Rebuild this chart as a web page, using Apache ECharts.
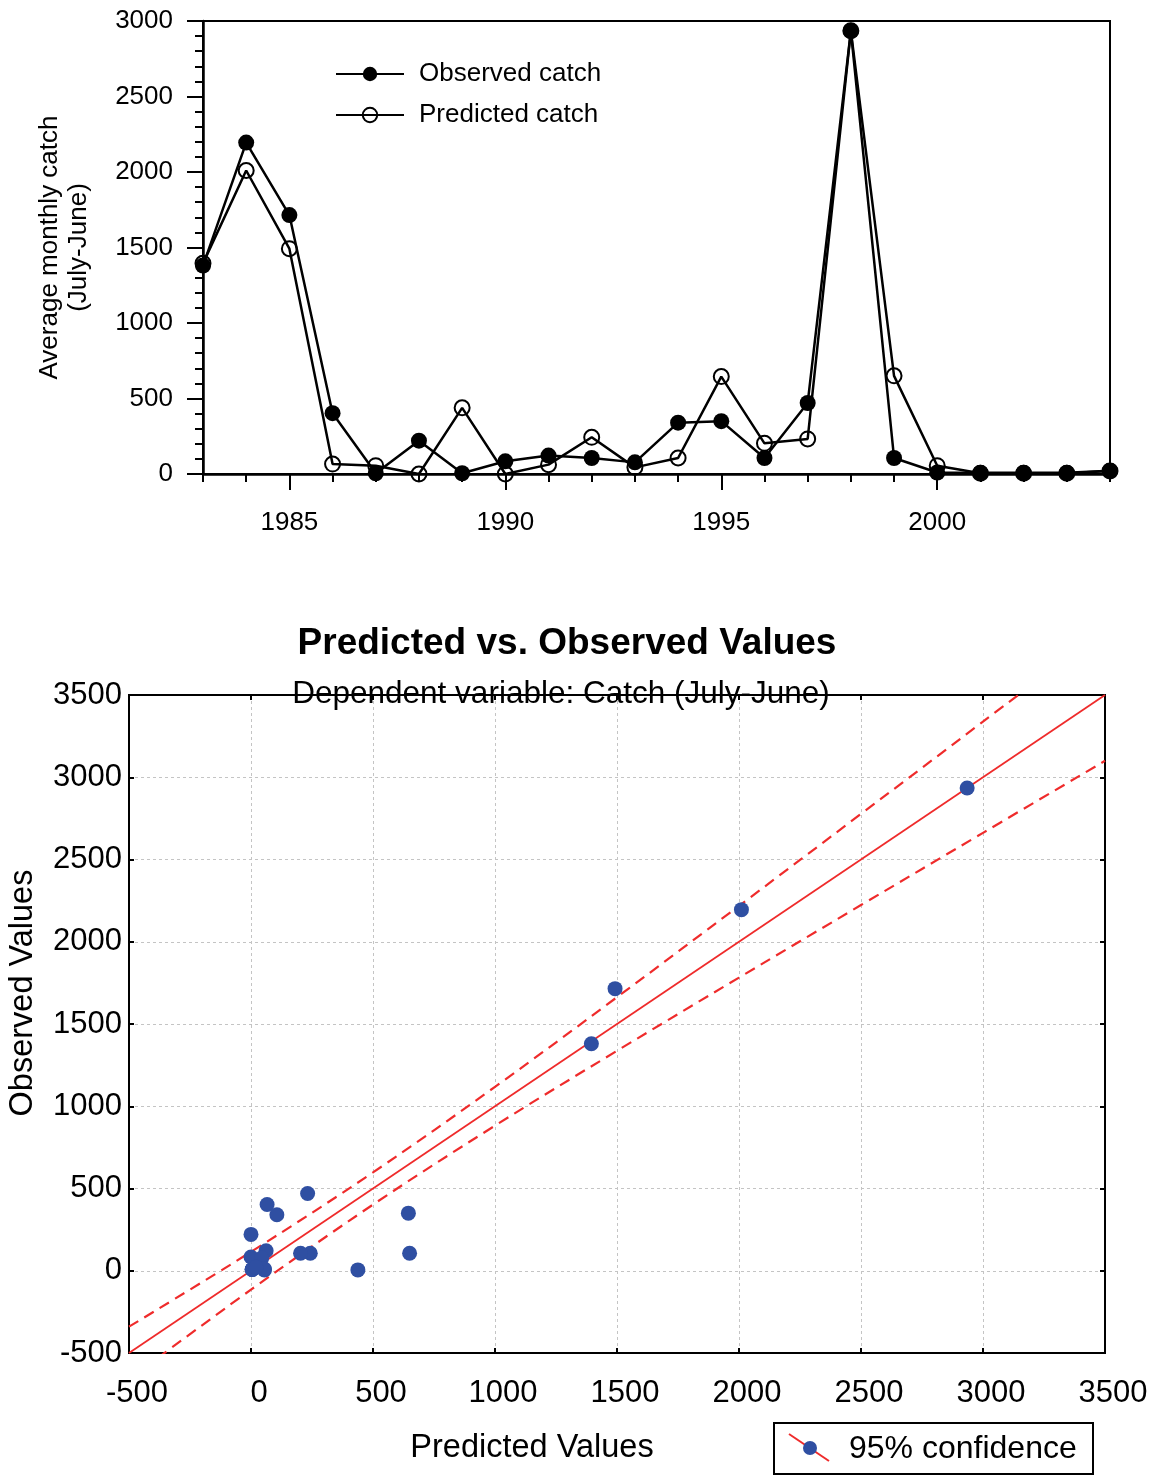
<!DOCTYPE html>
<html>
<head>
<meta charset="utf-8">
<script src="https://cdn.jsdelivr.net/npm/echarts@6/dist/echarts.min.js"></script>
<style>
  html, body { margin: 0; padding: 0; background: #fff; }
  #chart { width: 1163px; height: 1475px; }
</style>
</head>
<body>
<div id="chart"></div>
<script>
// Fishing seasons (July-June), labelled by starting year
const years = [1983, 1984, 1985, 1986, 1987, 1988, 1989, 1990, 1991, 1992, 1993,
               1994, 1995, 1996, 1997, 1998, 1999, 2000, 2001, 2002, 2003, 2004];
// Average monthly catch
const observedCatch  = [1380, 2195, 1715, 403, 5, 221, 5, 84, 122, 106, 77,
                        340, 350, 106, 470, 2935, 106, 10, 8, 8, 8, 22];
const predictedCatch = [1395, 2010, 1492, 66, 55, 0, 438, 0, 62, 243, 44,
                        106, 645, 203, 232, 2935, 650, 55, 5, 5, 5, 20];
const yearTicksMajor = [1985, 1990, 1995, 2000];

// Fitted line and 95% confidence band of observed on predicted
const fitX = [-500, 3500];
const fitY = [-500, 3500];
const bandX     = [-500, 0, 500, 1000, 1500, 2000, 2500, 3000, 3500];
const bandUpper = [-340, 115, 598, 1118, 1663, 2218, 2777, 3338, 3900];
const bandLower = [-660, -115, 402, 882, 1337, 1782, 2223, 2662, 3100];

const FONT = '"Liberation Sans", Arial, sans-serif';
const RED = '#ef2b2b';
const BLUE = '#2f4fa2';

const zip = (a, b) => a.map((v, i) => [v, b[i]]);
const plain = v => String(v);

const chart = echarts.init(document.getElementById('chart'), null, { renderer: 'canvas' });

const scatterGrid = {
  splitLine: { show: true, showMinLine: false, showMaxLine: false,
               lineStyle: { color: '#c4c4c4', type: [3, 3], width: 1 } }
};

chart.setOption({
  backgroundColor: '#fff',
  animation: false,
  textStyle: { fontFamily: FONT, color: '#000' },
  title: [
    { text: 'Predicted vs. Observed Values', left: 562, top: 620, textAlign: 'center',
      textStyle: { fontFamily: FONT, fontSize: 37, fontWeight: 'bold', color: '#000' } },
    { text: 'Dependent variable: Catch (July-June)', left: 556, top: 673, textAlign: 'center',
      textStyle: { fontFamily: FONT, fontSize: 31.5, fontWeight: 'normal', color: '#000' } }
  ],
  legend: {
    data: ['Observed catch', 'Predicted catch'],
    orient: 'vertical',
    left: 335, top: 61, padding: 0,
    itemWidth: 68, itemHeight: 18, itemGap: 15,
    textStyle: { fontFamily: FONT, fontSize: 26, color: '#000', padding: [0, 0, 0, 10] }
  },
  grid: [
    { left: 203, top: 21, width: 907, height: 453, show: true, outerBoundsMode: 'none',
      borderColor: '#000', borderWidth: 2, backgroundColor: 'transparent' },
    { left: 129, top: 695, width: 976, height: 658, show: true, outerBoundsMode: 'none',
      borderColor: '#000', borderWidth: 2, backgroundColor: 'transparent' }
  ],
  xAxis: [
    { // yearly ticks and labels
      type: 'value', gridIndex: 0, min: 1983, max: 2004, interval: 1,
      axisLine: { onZero: false, lineStyle: { color: '#000', width: 2.5 } },
      axisTick: { length: 8, lineStyle: { color: '#000', width: 2 } },
      axisLabel: { fontSize: 26, color: '#000', margin: 36,
                   formatter: v => (v % 5 === 0 ? String(v) : '') },
      splitLine: { show: false }
    },
    { // longer ticks every five years
      type: 'value', gridIndex: 0, min: 1983, max: 2004, position: 'bottom',
      axisLine: { show: false, onZero: false },
      axisTick: { show: true, length: 16, customValues: yearTicksMajor,
                  lineStyle: { color: '#000', width: 2 } },
      axisLabel: { show: false },
      splitLine: { show: false }
    },
    { type: 'value', gridIndex: 1, min: -500, max: 3500, interval: 500, position: 'bottom',
      name: 'Predicted Values', nameLocation: 'middle', nameGap: 79,
      nameTextStyle: { fontSize: 32.5, color: '#000', padding: [0, 170, 0, 0] },
      axisLine: { onZero: false, lineStyle: { color: '#000', width: 2 } },
      axisTick: { inside: true, length: 5, lineStyle: { color: '#000', width: 2 } },
      axisLabel: { fontSize: 31, color: '#000', margin: 25, formatter: plain,
                   padding: [0, 0, 0, 16] },
      ...scatterGrid
    },
    { type: 'value', gridIndex: 1, min: -500, max: 3500, interval: 500, position: 'top',
      axisLine: { onZero: false, lineStyle: { color: '#000', width: 2 } },
      axisTick: { inside: true, length: 5, lineStyle: { color: '#000', width: 2 } },
      axisLabel: { show: false }, splitLine: { show: false }
    }
  ],
  yAxis: [
    { type: 'value', gridIndex: 0, min: 0, max: 3000, interval: 500,
      name: 'Average monthly catch\n(July-June)', nameLocation: 'middle', nameGap: 110,
      nameTextStyle: { fontSize: 26, lineHeight: 29, color: '#000' },
      axisLine: { show: true, onZero: false, lineStyle: { color: '#000', width: 2.5 } },
      axisTick: { length: 16, lineStyle: { color: '#000', width: 2 } },
      minorTick: { show: true, splitNumber: 5, length: 8, lineStyle: { color: '#000', width: 2 } },
      axisLabel: { fontSize: 26, color: '#000', margin: 30, formatter: plain },
      splitLine: { show: false }
    },
    { type: 'value', gridIndex: 1, min: -500, max: 3500, interval: 500, position: 'left',
      name: 'Observed Values', nameLocation: 'middle', nameGap: 89,
      nameTextStyle: { fontSize: 32.5, color: '#000', padding: [0, 0, 0, 62] },
      axisLine: { show: true, onZero: false, lineStyle: { color: '#000', width: 2 } },
      axisTick: { inside: true, length: 5, lineStyle: { color: '#000', width: 2 } },
      axisLabel: { fontSize: 31, color: '#000', margin: 7, formatter: plain },
      ...scatterGrid
    },
    { type: 'value', gridIndex: 1, min: -500, max: 3500, interval: 500, position: 'right',
      axisLine: { show: true, onZero: false, lineStyle: { color: '#000', width: 2 } },
      axisTick: { inside: true, length: 5, lineStyle: { color: '#000', width: 2 } },
      axisLabel: { show: false }, splitLine: { show: false }
    }
  ],
  series: [
    { name: 'Predicted catch', type: 'line', xAxisIndex: 0, yAxisIndex: 0,
      data: zip(years, predictedCatch),
      symbol: 'circle', symbolSize: 15,
      lineStyle: { color: '#000', width: 2.5 },
      itemStyle: { color: 'rgba(0,0,0,0)', borderColor: '#000', borderWidth: 2 },
      z: 3 },
    { name: 'Observed catch', type: 'line', xAxisIndex: 0, yAxisIndex: 0,
      data: zip(years, observedCatch),
      symbol: 'circle', symbolSize: 16,
      lineStyle: { color: '#000', width: 2.5 },
      itemStyle: { color: '#000', borderColor: '#000', borderWidth: 0 },
      z: 4 },
    { name: 'fit', type: 'line', xAxisIndex: 2, yAxisIndex: 1,
      data: zip(fitX, fitY), symbol: 'none', clip: true,
      lineStyle: { color: RED, width: 1.8 }, z: 3 },
    { name: 'upper95', type: 'line', xAxisIndex: 2, yAxisIndex: 1,
      data: zip(bandX, bandUpper), symbol: 'none', smooth: 0.35, clip: true,
      lineStyle: { color: RED, width: 2.2, type: [11, 7] }, z: 3 },
    { name: 'lower95', type: 'line', xAxisIndex: 2, yAxisIndex: 1,
      data: zip(bandX, bandLower), symbol: 'none', smooth: 0.35, clip: true,
      lineStyle: { color: RED, width: 2.2, type: [11, 7] }, z: 3 },
    { name: '95% confidence', type: 'scatter', xAxisIndex: 2, yAxisIndex: 1,
      data: zip(predictedCatch, observedCatch),
      symbol: 'circle', symbolSize: 15,
      itemStyle: { color: BLUE, opacity: 1 }, z: 4 }
  ],
  graphic: [
    { type: 'group', left: 773, top: 1422, children: [
      { type: 'rect', shape: { x: 0, y: 0, width: 319, height: 51 },
        style: { fill: '#fff', stroke: '#000', lineWidth: 2 } },
      { type: 'line', shape: { x1: 15, y1: 11, x2: 55, y2: 38 },
        style: { stroke: RED, lineWidth: 2 } },
      { type: 'circle', shape: { cx: 36, cy: 25, r: 7 }, style: { fill: BLUE } },
      { type: 'text', x: 75, y: 26,
        style: { text: '95% confidence', font: '32px ' + FONT, fill: '#000',
                 verticalAlign: 'middle', align: 'left' } }
    ] }
  ]
});
</script>
</body>
</html>
